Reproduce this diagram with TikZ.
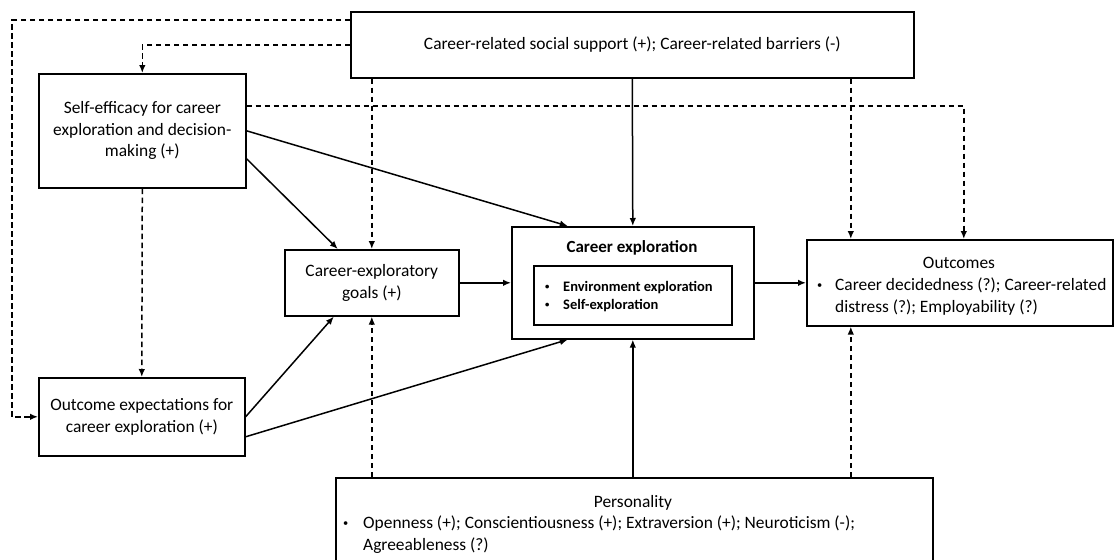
\documentclass[tikz,border=0pt]{standalone}
\usepackage{fontspec}
\usepackage{graphicx}
\setmainfont{Carlito}
\usetikzlibrary{arrows.meta}
\newcommand\regsz{\fontsize{17.4}{21.5}\selectfont}
\newcommand\titsz{\fontsize{17}{20}\selectfont\bfseries}
\newcommand\insz{\fontsize{14.5}{18}\selectfont\bfseries}
\newcommand\smbul{\raisebox{0.12em}{\scalebox{0.6}{\textbullet}}}
\begin{document}
\begin{tikzpicture}[x=1pt,y=-1pt,
  box/.style={draw, line width=1.6pt, inner sep=0pt, anchor=north west, align=center, font=\regsz},
  txt/.style={inner sep=0pt, anchor=base west, align=left},
  conn/.style={line width=1.5pt, -{Latex[length=8pt,width=6.5pt]}},
  dconn/.style={conn, dash pattern=on 5.5pt off 3.5pt}]
\clip (0,0) rectangle (1120,560);
\fill[white] (0,0) rectangle (1120,560);

% boxes
\node[box, minimum width=563pt, minimum height=66pt] (sup) at (350,11) {Career-related social support (+); Career-related barriers (-)};
\node[box, minimum width=207pt, minimum height=114pt] (se) at (38,73) {Self-efficacy for career\\exploration and decision-\\making (+)};
\node[box, minimum width=206pt, minimum height=78pt] (oe) at (38,377) {Outcome expectations for\\career exploration (+)};
\node[box, minimum width=174pt, minimum height=66pt] (goals) at (284,249) {Career-exploratory\\goals (+)};
\node[box, minimum width=242pt, minimum height=112pt] (ce) at (511,226) {};
\node[box, minimum width=198pt, minimum height=59pt] (inner) at (533,265) {};
\node[box, minimum width=306pt, minimum height=86pt] (out) at (806,239) {};
\node[box, minimum width=597pt, minimum height=120pt] (pers) at (335,477) {};

% texts inside compound boxes
\node[inner sep=0pt, anchor=base, font=\titsz] (cetitle) at (632,252) {Career exploration};
\node[txt, font=\insz] (celist) at (545,309) {\makebox[18pt][l]{\smbul}Environment exploration\\\makebox[18pt][l]{\smbul}Self-exploration};
\node[inner sep=0pt, anchor=base, font=\regsz] (outtitle) at (959,268) {Outcomes};
\node[txt, font=\regsz] (outlist) at (817,312) {\makebox[18pt][l]{\smbul}Career decidedness (?); Career-related\\\hspace*{18pt}distress (?); Employability (?)};
\node[inner sep=0pt, anchor=base, font=\regsz] (perstitle) at (633,507) {Personality};
\node[txt, font=\regsz] (perslist) at (343,550) {\makebox[20pt][l]{\smbul}Openness (+); Conscientiousness (+); Extraversion (+); Neuroticism (-);\\\hspace*{20pt}Agreeableness (?)};

% solid connectors
\draw[conn] (sup.south) -- (ce.north);
\draw[conn] (ce.south |- pers.north) -- (ce.south);
\draw[conn] (se.east) -- ([xshift=-65pt]ce.north);
\draw[conn] ([yshift=-28pt]se.east) -- ([xshift=-34pt]goals.north);
\draw[conn] (oe.east) -- ([xshift=-38pt]goals.south);
\draw[conn] ([yshift=-20pt]oe.east) -- ([xshift=-65pt]ce.south);
\draw[conn] (goals.east) -- (goals.east -| ce.west);
\draw[conn] (ce.east) -- (ce.east -| out.west);

% dashed connectors
\draw[dconn] ([yshift=-9pt]sup.north west) -| ([xshift=-26pt]oe.west) -- (oe.west);
\draw[dconn] (sup.west) -| (se.north);
\draw[dconn] ([yshift=25pt]se.east) -| ([xshift=4pt]out.north);
\draw[dconn] (goals.north |- sup.south) -- (goals.north);
\draw[dconn] ([xshift=-109pt]out.north |- sup.south) -- ([xshift=-109pt]out.north);
\draw[dconn] (se.south) -- (oe.north);
\draw[dconn] (goals.south |- pers.north) -- (goals.south);
\draw[dconn] ([xshift=-109pt]out.south |- pers.north) -- ([xshift=-109pt]out.south);
\end{tikzpicture}
\end{document}
